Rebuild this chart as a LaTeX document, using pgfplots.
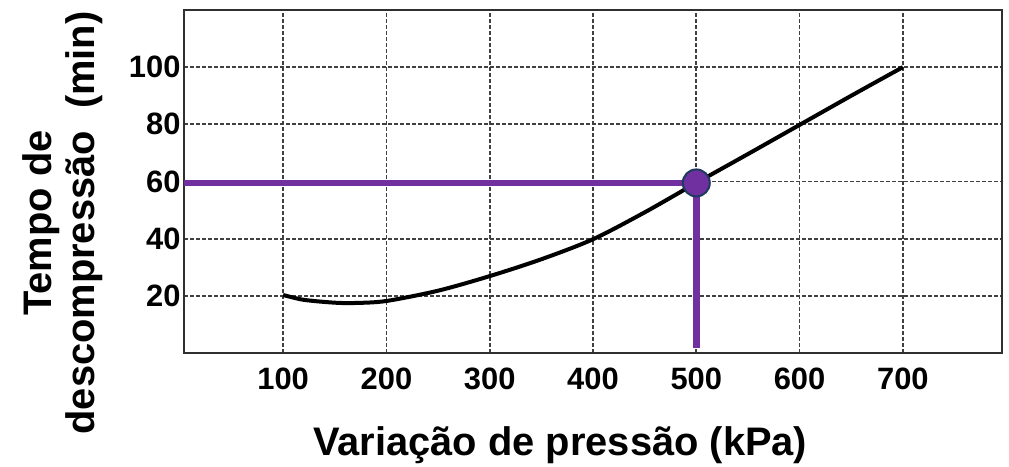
\documentclass[border=0pt]{standalone}
\usepackage{fontspec}
\setmainfont{Liberation Sans}
\usepackage{pgfplots}
\pgfplotsset{compat=1.18}
\definecolor{roxo}{HTML}{7030A0}
\definecolor{contorno}{HTML}{1F3A5F}
\definecolor{grade}{HTML}{404040}
\definecolor{borda}{HTML}{303030}

\begin{document}
\begin{tikzpicture}
\path[use as bounding box] (0,0) rectangle (1009bp,467bp);
\begin{axis}[
  at={(184bp,114bp)}, anchor=south west,
  scale only axis, width=818bp, height=343bp,
  xmin=4, xmax=796, ymin=0, ymax=120,
  xtick={100,200,...,700}, ytick={20,40,...,100},
  grid=major,
  grid style={grade, line width=1.7bp, dash pattern=on 3.5bp off 2.5bp},
  axis line style={borda, line width=2.8bp},
  major tick length=0pt,
  /pgf/number format/assume math mode=true,
  ticklabel style={font=\fontsize{31}{36}\selectfont\bfseries, text=black},
  xticklabel style={yshift=-11bp},
  yticklabel style={xshift=0bp},
  xlabel={Variação de pressão (kPa)},
  xlabel style={at={(axis description cs:0.460,-0.300)}, anchor=base,
    font=\fontsize{40}{45}\selectfont\bfseries},
  ylabel={Tempo de\\descompressão\ \ (min)},
  ylabel style={at={(axis description cs:-0.148,0.379)}, anchor=center,
    align=center, font=\fontsize{40}{43}\selectfont\bfseries},
]
\addplot[black, line width=4bp, smooth, tension=0.5] coordinates {
  (100,20.3) (120,18.6) (150,17.6) (170,17.5) (200,18.2) (250,21.8)
  (300,26.9) (350,32.8) (400,39.8) (450,49.2) (500,59.5) (550,69.6)
  (600,79.8) (650,90.0) (700,100)
};
\addplot[roxo, line width=6.5bp] coordinates {(4,59.5) (500,59.5)};
\addplot[roxo, line width=6.5bp] coordinates {(500,59.5) (500,1.8)};
\addplot[only marks, mark=*, mark size=13.5bp,
  mark options={fill=roxo, draw=contorno, line width=2bp}]
  coordinates {(500,59.5)};
\end{axis}
\end{tikzpicture}
\end{document}
